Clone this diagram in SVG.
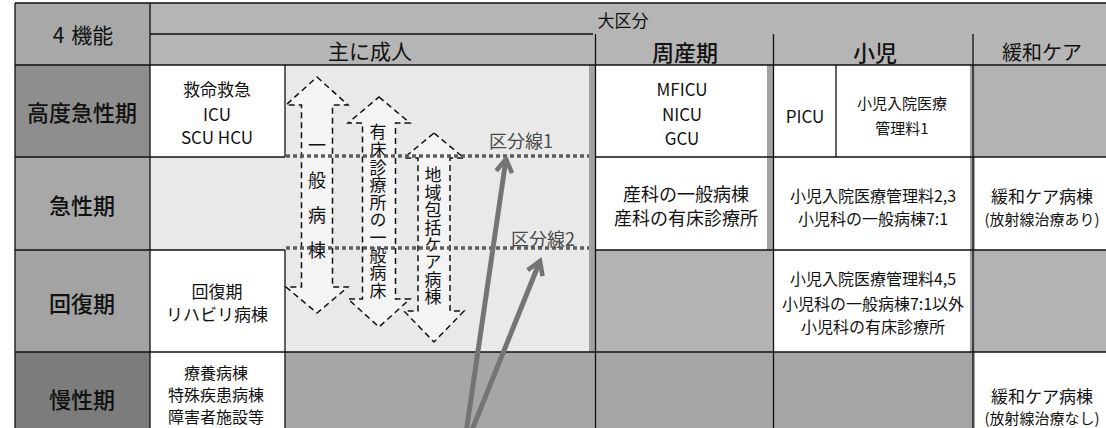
<svg xmlns="http://www.w3.org/2000/svg" width="1106" height="428" viewBox="0 0 1106 428">
<style>
.t{font-family:"Noto Sans CJK JP","Noto Sans CJK SC",sans-serif;fill:#111;text-anchor:middle;dominant-baseline:central}
.v{font-family:"Noto Sans CJK JP","Noto Sans CJK SC",sans-serif;fill:#111;writing-mode:vertical-rl;text-anchor:start}
.h{font-size:22px;font-weight:500}
.c{font-size:17px}
.m{font-size:18px}
.s{font-size:16px}
.x{font-size:15px}
.ln{stroke:#111;stroke-width:1.3;fill:none}
.box{fill:#f4f4f4;stroke:#111;stroke-width:1.5;stroke-dasharray:6 4}
.div{stroke:#5c5c5c;stroke-width:3.5;stroke-dasharray:4 3;fill:none}
.lbl{font-family:"Noto Sans CJK JP",sans-serif;font-size:18px;fill:#4a4a4a;text-anchor:middle;dominant-baseline:central}
.conn{stroke:#747474;stroke-width:5;fill:none;marker-end:url(#chev)}
.w{fill:#ffffff}
.g{fill:#b3b3b3}
.g4{fill:#a6a6a6}
.lt{fill:#e9e9e9}
.strip{fill:#a2a2a2}
</style>
<defs>
<marker id="chev" viewBox="-16 -12 21 24" refX="0" refY="0" markerWidth="21" markerHeight="24" markerUnits="userSpaceOnUse" orient="auto">
<path d="M-13,-8 L0,0 L-13,8" fill="none" stroke="#747474" stroke-width="4.5"/>
</marker>
</defs>

<!-- background -->
<rect x="0" y="0" width="1106" height="428" fill="#ffffff"/>

<!-- header -->
<g id="hdr-4kinou">
<rect x="15" y="3" width="135" height="62" fill="#a8a8a8"/>
<text class="t" x="83" y="34" font-size="21">4<tspan dx="7">機能</tspan></text>
</g>
<g id="hdr-daikubun">
<rect x="150" y="3" width="956" height="62" fill="#b5b5b5"/>
<text class="t" x="623" y="19" font-size="17">大区分</text>
</g>
<g id="hdr-seijin"><text class="t" x="370" y="50" font-size="21">主に成人</text></g>
<g id="hdr-shusanki"><text class="t h" x="685" y="51">周産期</text></g>
<g id="hdr-shoni"><text class="t h" x="875" y="51">小児</text></g>
<g id="hdr-kanwa"><text class="t" x="1042" y="51" font-size="20">緩和ケア</text></g>

<!-- row headers -->
<g id="row-koudo">
<rect x="15" y="65" width="135" height="92" fill="#8e8e8e"/>
<text class="t h" x="82" y="111">高度急性期</text>
</g>
<g id="row-kyusei">
<rect x="15" y="157" width="135" height="93" fill="#a8a8a8"/>
<text class="t h" x="82" y="204">急性期</text>
</g>
<g id="row-kaifuku">
<rect x="15" y="250" width="135" height="102" fill="#a3a3a3"/>
<text class="t h" x="82" y="302">回復期</text>
</g>
<g id="row-mansei">
<rect x="15" y="352" width="135" height="76" fill="#7c7c7c"/>
<text class="t h" x="82" y="398">慢性期</text>
</g>

<!-- light area (主に成人) -->
<g id="area-seijin">
<rect class="lt" x="285" y="65" width="304" height="287"/>
<rect class="lt" x="150" y="157" width="135" height="93"/>
</g>

<!-- strips -->
<rect class="strip" x="589" y="65" width="7" height="363"/>
<rect class="strip" x="767" y="65" width="7" height="363"/>
<rect class="strip" x="970" y="65" width="5" height="363"/>

<!-- cells row 1 -->
<g id="cell-kyumei">
<rect class="w" x="150" y="65" width="135" height="92"/>
<text class="t c" x="217" y="88">救命救急</text>
<text class="t c" x="217" y="113">ICU</text>
<text class="t c" x="217" y="136">SCU HCU</text>
</g>
<g id="cell-mficu">
<rect class="w" x="596" y="65" width="171" height="92"/>
<text class="t c" x="682" y="88">MFICU</text>
<text class="t c" x="682" y="113">NICU</text>
<text class="t c" x="682" y="137">GCU</text>
</g>
<g id="cell-picu">
<rect class="w" x="774" y="65" width="62" height="92"/>
<text class="t c" x="805" y="115">PICU</text>
</g>
<g id="cell-shoni1">
<rect class="w" x="836" y="65" width="134" height="92"/>
<text class="t x" x="902" y="102">小児入院医療</text>
<text class="t x" x="902" y="127">管理料1</text>
</g>
<g id="cell-kanwa-koudo"><rect class="g" x="975" y="65" width="131" height="92"/></g>

<!-- cells row 2 -->
<g id="cell-sanka">
<rect class="w" x="596" y="157" width="171" height="93"/>
<text class="t m" x="686" y="193">産科の一般病棟</text>
<text class="t m" x="686" y="217">産科の有床診療所</text>
</g>
<g id="cell-shoni23">
<rect class="w" x="774" y="157" width="196" height="93"/>
<text class="t s" x="873" y="195">小児入院医療管理料2,3</text>
<text class="t s" x="873" y="218">小児科の一般病棟7:1</text>
</g>
<g id="cell-kanwa-ari">
<rect class="w" x="975" y="157" width="131" height="93"/>
<text class="t c" x="1042" y="195">緩和ケア病棟</text>
<text class="t x" x="1042" y="218">(放射線治療あり)</text>
</g>

<!-- cells row 3 -->
<g id="cell-kaifuku">
<rect class="w" x="150" y="250" width="135" height="102"/>
<text class="t c" x="217" y="290">回復期</text>
<text class="t c" x="217" y="313">リハビリ病棟</text>
</g>
<g id="cell-shusan-kaifuku"><rect class="g" x="596" y="250" width="178" height="102"/></g>
<g id="cell-shoni45">
<rect class="w" x="774" y="250" width="196" height="102"/>
<text class="t s" x="873" y="278">小児入院医療管理料4,5</text>
<text class="t s" x="873" y="303">小児科の一般病棟7:1以外</text>
<text class="t s" x="873" y="326">小児科の有床診療所</text>
</g>
<g id="cell-kanwa-kaifuku"><rect class="g" x="975" y="250" width="131" height="102"/></g>

<!-- cells row 4 -->
<g id="cell-ryouyou">
<rect class="w" x="150" y="352" width="135" height="76"/>
<text class="t s" x="216" y="372">療養病棟</text>
<text class="t s" x="216" y="394">特殊疾患病棟</text>
<text class="t s" x="216" y="416">障害者施設等</text>
</g>
<g id="cell-mansei-gray">
<rect class="g4" x="285" y="352" width="685" height="76"/>
</g>
<g id="cell-kanwa-nashi">
<rect class="w" x="975" y="352" width="131" height="76"/>
<text class="t c" x="1042" y="395">緩和ケア病棟</text>
<text class="t x" x="1042" y="417">(放射線治療なし)</text>
</g>

<!-- grid lines -->
<g id="grid">
<path class="ln" d="M15,3 H1106 M150,34 H593 M15,65 H1106 M15,157 H285 M596,157 H1106 M15,250 H285 M596,250 H1106 M15,352 H1106"/>
<path class="ln" d="M15,3 V428 M150,3 V428 M285,65 V157 M285,250 V428 M595.5,34 V428 M773.5,34 V428 M836,65 V157 M973,34 V428"/>
</g>

<!-- block double arrows -->
<g id="arrow-ippan">
<polygon class="box" points="317,77 348,105 332.5,105 332.5,287 348,287 317,313 286,287 301.5,287 301.5,105 286,105"/>
<text class="v" x="317" y="136" font-size="18" letter-spacing="17">一般病棟</text>
</g>
<g id="arrow-yushou">
<polygon class="box" points="379,97 410,123 395.5,123 395.5,299 410,299 379,327 348,299 362.5,299 362.5,123 348,123"/>
<text class="v" x="378" y="123.5" font-size="17" letter-spacing="0.6">有床診療所の一般病床</text>
</g>
<g id="arrow-chiiki">
<polygon class="box" points="434,133 464,158 450,158 450,311 464,311 434,342 404,311 418,311 418,158 404,158"/>
<text class="v" x="433" y="166.5" font-size="17" letter-spacing="0.4">地域包括ケア病棟</text>
</g>

<!-- division lines -->
<g id="kubunsen1">
<line class="div" x1="286" y1="156" x2="589" y2="156"/>
<text class="lbl" x="521" y="140">区分線1</text>
</g>
<g id="kubunsen2">
<line class="div" x1="286" y1="248" x2="589" y2="248"/>
<text class="lbl" x="543" y="238">区分線2</text>
</g>

<!-- connectors -->
<g id="connectors">
<line class="conn" x1="465" y1="440" x2="506" y2="159"/>
<line class="conn" x1="468" y1="440" x2="540" y2="261"/>
</g>
</svg>
